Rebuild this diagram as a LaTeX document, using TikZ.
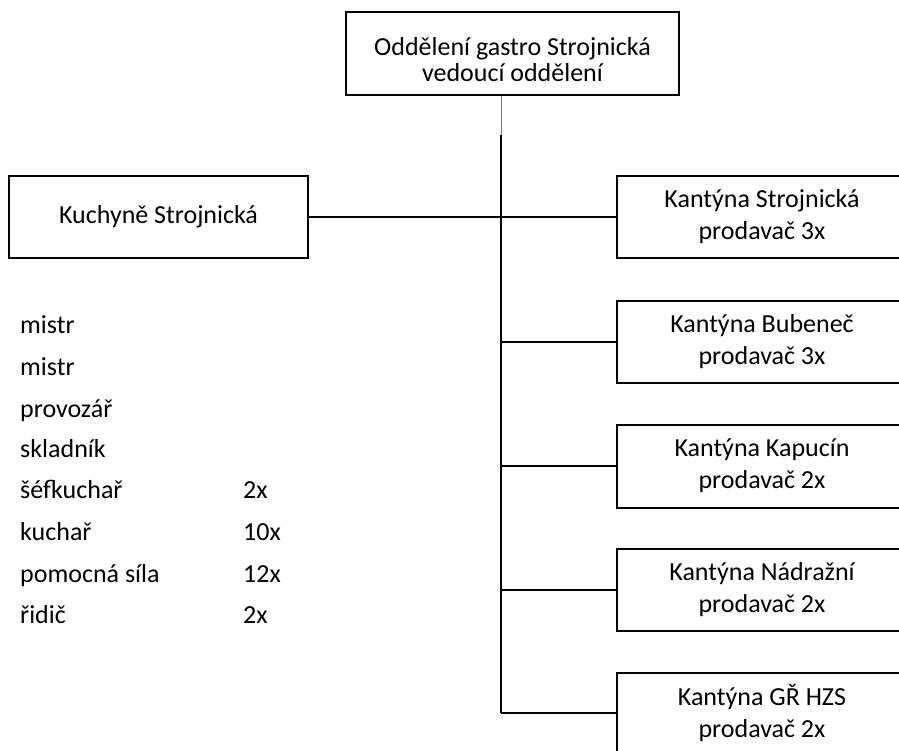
\documentclass[tikz,border=0pt]{standalone}
\usepackage{fontspec}
\setmainfont{Carlito}
\begin{document}
\begin{tikzpicture}[x=1pt,y=-1pt,
  box/.style={draw, line width=2pt, rectangle, inner sep=0pt, align=center, font=\fontsize{26}{32}\selectfont},
  conn/.style={line width=2pt},
  thinconn/.style={line width=1pt, draw=black!55},
  lst/.style={anchor=base west, inner sep=0pt, font=\fontsize{26}{32}\selectfont}]
\useasboundingbox (0,0) rectangle (899,751);

% top box
\node[box, minimum width=333pt, minimum height=83pt,
  label={[name=toptext, align=center, inner sep=0pt, yshift=-6pt, font=\fontsize{26}{26}\selectfont]center:Oddělení gastro Strojnická\\vedoucí oddělení}]
  (top) at (512.5,53.5) {};

% left box
\node[box, minimum width=299pt, minimum height=82pt] (kuch) at (158.5,217) {Kuchyně Strojnická};

% right boxes
\node[box, minimum width=290pt, minimum height=82pt] (k1) at (762,217) {Kantýna Strojnická\\prodavač 3x};
\node[box, minimum width=290pt, minimum height=82pt] (k2) at (762,342) {Kantýna Bubeneč\\prodavač 3x};
\node[box, minimum width=290pt, minimum height=83pt] (k3) at (762,466) {Kantýna Kapucín\\prodavač 2x};
\node[box, minimum width=290pt, minimum height=82pt] (k4) at (762,590) {Kantýna Nádražní\\prodavač 2x};
\node[box, minimum width=290pt, minimum height=80pt] (k5) at (762,713) {Kantýna GŘ HZS\\prodavač 2x};

% trunk
\coordinate (tr) at (501,0);
\coordinate (trmid) at (501,135);
\draw[thinconn] (top.south -| tr) -- (trmid);
\draw[conn] (trmid) -- (k5.west -| tr);

% branches
\draw[conn] (kuch.east) -- (k1.west);
\draw[conn] (k2.west -| tr) -- (k2.west);
\draw[conn] (k3.west -| tr) -- (k3.west);
\draw[conn] (k4.west -| tr) -- (k4.west);
\draw[conn] (k5.west -| tr) -- (k5.west);

% staff list
\node[lst] (r1) at (20,333) {mistr};
\node[lst] (r2) at (20,375) {mistr};
\node[lst] (r3) at (20,417) {provozář};
\node[lst] (r4) at (20,457) {skladník};
\node[lst] (r5) at (20,498) {šéfkuchař};
\node[lst] (r6) at (20,540) {kuchař};
\node[lst] (r7) at (20,582) {pomocná síla};
\node[lst] (r8) at (20,623) {řidič};
\node[lst] (c5) at (243,498) {2x};
\node[lst] (c6) at (243,540) {10x};
\node[lst] (c7) at (243,582) {12x};
\node[lst] (c8) at (243,623) {2x};
\end{tikzpicture}
\end{document}
